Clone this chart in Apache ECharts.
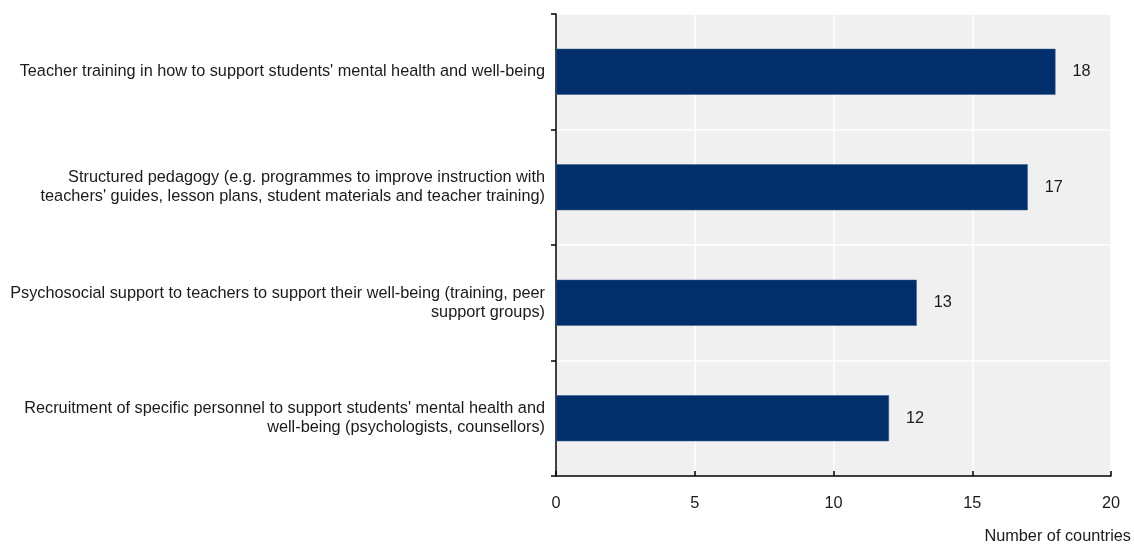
<!DOCTYPE html>
<html>
<head>
<meta charset="utf-8">
<script src="https://cdn.jsdelivr.net/npm/echarts@6/dist/echarts.min.js"></script>
<style>html,body{margin:0;padding:0;background:#fff;}#c{width:1134px;height:545px;}</style>
</head>
<body>
<div id="c"></div>
<script>
const categories = [
  "Teacher training in how to support students' mental health and well-being",
  "Structured pedagogy (e.g. programmes to improve instruction with\nteachers' guides, lesson plans, student materials and teacher training)",
  "Psychosocial support to teachers to support their well-being (training, peer\nsupport groups)",
  "Recruitment of specific personnel to support students' mental health and\nwell-being (psychologists, counsellors)"
];
const values = [18, 17, 13, 12];
const xTicks = [0, 5, 10, 15, 20];
const axisName = "Number of countries";

const font = "'Liberation Sans', Arial, sans-serif";
const fs = 16.3;
const txt = '#1a1a1a';
const chart = echarts.init(document.getElementById('c'), null, {renderer: 'canvas'});
chart.setOption({
  animation: false,
  textStyle: {fontFamily: font},
  grid: {left: 556, right: 23, top: 14, bottom: 68, show: true, backgroundColor: '#f0f0f0', borderWidth: 0},
  xAxis: {
    type: 'value', min: xTicks[0], max: xTicks[xTicks.length - 1], interval: 5,
    name: axisName, nameLocation: 'end', nameGap: 20,
    nameTextStyle: {align: 'right', verticalAlign: 'top', padding: [53, 0, 0, 0], fontSize: fs, color: txt, fontFamily: font},
    axisLine: {show: true, lineStyle: {color: '#000', width: 1.5}},
    axisTick: {show: true, inside: true, length: 5, lineStyle: {color: '#000', width: 1.5}},
    axisLabel: {fontSize: fs, color: txt, margin: 20, fontFamily: font},
    splitLine: {show: true, lineStyle: {color: '#fff', width: 1.5}}
  },
  yAxis: {
    type: 'category', data: categories, inverse: true,
    axisLine: {show: true, lineStyle: {color: '#000', width: 1.5}},
    axisTick: {show: true, inside: false, length: 5, lineStyle: {color: '#000', width: 1.5}},
    axisLabel: {fontSize: fs, color: txt, margin: 11, align: 'right', lineHeight: 19, fontFamily: font},
    splitLine: {show: true, lineStyle: {color: '#fff', width: 1.5}}
  },
  series: [{
    type: 'bar', data: values, barWidth: 46,
    itemStyle: {color: '#002F6C', borderColor: '#3a5f8f', borderWidth: 0.5},
    label: {show: true, position: 'right', distance: 17, fontSize: fs, color: txt, fontFamily: font}
  }]
});
</script>
</body>
</html>
